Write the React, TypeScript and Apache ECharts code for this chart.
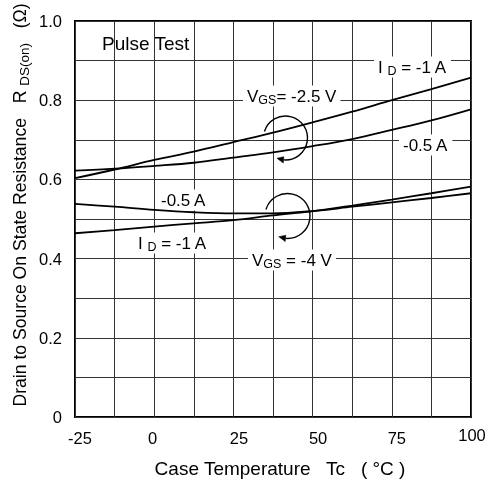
import React, { useEffect, useRef } from 'react';
import * as echarts from 'echarts';

// Case temperature Tc (°C)
const temps = [-25, -12.5, 0, 12.5, 25, 37.5, 50, 62.5, 75, 87.5, 100];
// RDS(on) (Ω)
const rVgs25Id1 = [0.603, 0.625, 0.649, 0.670, 0.694, 0.718, 0.744, 0.771, 0.800, 0.828, 0.857];
const rVgs25Id05 = [0.622, 0.627, 0.634, 0.642, 0.655, 0.668, 0.684, 0.702, 0.725, 0.749, 0.777];
const rVgs4Id05 = [0.538, 0.531, 0.523, 0.517, 0.514, 0.514, 0.520, 0.531, 0.542, 0.553, 0.565];
const rVgs4Id1 = [0.464, 0.472, 0.481, 0.489, 0.497, 0.509, 0.520, 0.534, 0.549, 0.565, 0.582];

const xTickLabels = ['-25', '0', '25', '50', '75', '100'];
const yTickLabels = ['0', '0.2', '0.4', '0.6', '0.8', '1.0'];

const FONT = '"Liberation Sans", Arial, sans-serif';

// per-label nudges of the x tick labels (style only)
const xLabelRich: Record<string, any> = {
  t0: { padding: [3, 0, 0, 10] },
  t1: { padding: [3, 3, 0, 0] },
  t2: { padding: [3, 0, 0, 11] },
  t3: { padding: [3, 0, 0, 11] },
  t4: { padding: [3, 0, 0, 10] },
  t5: { padding: [0, 0, 0, 2] },
};

export default function App() {
  const ref = useRef<HTMLDivElement>(null);
  useEffect(() => {
    const chart = echarts.init(ref.current!, null, { renderer: 'svg' });

    const mk = (name: string, vals: number[]) => ({
      type: 'line',
      name,
      data: temps.map((t, i) => [t, vals[i]]),
      smooth: 0.35,
      symbol: 'none',
      lineStyle: { color: '#000', width: 1.8 },
      z: 3,
    });

    const rich = {
      n: { fontSize: 17, fontFamily: FONT, lineHeight: 21, verticalAlign: 'middle', fill: '#000' },
      s: { fontSize: 12.5, fontFamily: FONT, lineHeight: 12, verticalAlign: 'bottom', fill: '#000' },
    };

    const label = (text: string, left: number, cy: number) => ({
      type: 'text',
      x: left - 4,
      y: cy,
      z: 1,
      style: {
        text,
        rich,
        fill: '#000',
        align: 'left',
        verticalAlign: 'middle',
        backgroundColor: '#fff',
        padding: [0, 4, 0, 4],
      },
    });

    const arrow = (cx: number, cy: number, r: number, a0: number, a1: number) => {
      const d = Math.PI / 180;
      const endA = a1 * d;
      const tipA = (a1 + 18) * d;
      const bx = cx + r * Math.cos(endA);
      const by = cy + r * Math.sin(endA);
      const tx = cx + r * Math.cos(tipA);
      const ty = cy + r * Math.sin(tipA);
      const nx = Math.cos(endA) * 3.2;
      const ny = Math.sin(endA) * 3.2;
      return [
        {
          type: 'arc',
          z: 100,
          shape: { cx, cy, r, startAngle: a0 * d, endAngle: endA, clockwise: true },
          style: { stroke: '#000', lineWidth: 1.4, fill: 'none' },
        },
        {
          type: 'polygon',
          z: 100,
          shape: { points: [[tx, ty], [bx + nx, by + ny], [bx - nx, by - ny]] },
          style: { fill: '#000', stroke: '#000', lineWidth: 0.5 },
        },
      ];
    };

    chart.setOption({
      animation: false,
      grid: {
        left: 75, top: 21, right: 22, bottom: 63,
        show: true, borderColor: '#000', borderWidth: 2, backgroundColor: 'transparent',
      },
      xAxis: {
        type: 'value', min: -25, max: 100, interval: 12.5,
        axisLine: { show: false }, axisTick: { show: false },
        splitLine: { show: true, lineStyle: { color: '#333', width: 1 } },
        axisLabel: {
          margin: 9, fontSize: 16.5, fontFamily: FONT, color: '#000',
          rich: xLabelRich,
          formatter: (v: number) => {
            const i = xTickLabels.indexOf(String(v));
            return i >= 0 ? `{t${i}|${xTickLabels[i]}}` : '';
          },
        },
      },
      yAxis: {
        type: 'value', min: 0, max: 1, interval: 0.1,
        axisLine: { show: false }, axisTick: { show: false },
        splitLine: { show: true, lineStyle: { color: '#333', width: 1 } },
        axisLabel: {
          margin: 13, fontSize: 16.5, fontFamily: FONT, color: '#000',
          formatter: (v: number) => {
            const k = Math.round(v * 10);
            return k % 2 === 0 ? yTickLabels[k / 2] : '';
          },
        },
      },
      series: [
        mk('VGS=-2.5V ID=-1A', rVgs25Id1),
        mk('VGS=-2.5V ID=-0.5A', rVgs25Id05),
        mk('VGS=-4V ID=-0.5A', rVgs4Id05),
        mk('VGS=-4V ID=-1A', rVgs4Id1),
      ],
      graphic: [
        {
          type: 'text', x: 102, y: 43, z: 100,
          style: { text: 'Pulse Test', font: `19px ${FONT}`, fill: '#000', align: 'left', verticalAlign: 'middle' },
        },
        label('{n|I }{s|D}{n| = -1 A}', 378, 67),
        label('{n|V}{s|GS}{n|= -2.5 V}', 247, 96),
        label('{n|-0.5 A}', 403, 145),
        label('{n|-0.5 A}', 161, 200),
        label('{n|I }{s|D}{n| = -1 A}', 138, 243),
        label('{n|V}{s|GS}{n| = -4 V}', 252, 260),
        ...arrow(285.5, 138, 22, 197, 95),
        ...arrow(287.5, 216, 22.5, 197, 95),
        {
          type: 'text', x: 20, y: 205, rotation: Math.PI / 2, z: 100,
          style: {
            text: '{n|Drain to Source On State Resistance   R }{s|DS(on)}{n|   (Ω)}',
            rich: {
              n: { fontSize: 17.6, fontFamily: FONT, lineHeight: 22, verticalAlign: 'middle', fill: '#000' },
              s: { fontSize: 13.5, fontFamily: FONT, lineHeight: 13, verticalAlign: 'bottom', fill: '#000' },
            },
            align: 'center', verticalAlign: 'middle',
          },
        },
        {
          type: 'text', x: 280, y: 468, z: 100,
          style: {
            text: 'Case Temperature   Tc   ( °C )', font: `19px ${FONT}`, fill: '#000',
            align: 'center', verticalAlign: 'middle',
          },
        },
      ],
    });
    return () => chart.dispose();
  }, []);
  return <div ref={ref} style={{ position: 'fixed', left: 0, top: 0, width: 493, height: 480 }} />;
}
